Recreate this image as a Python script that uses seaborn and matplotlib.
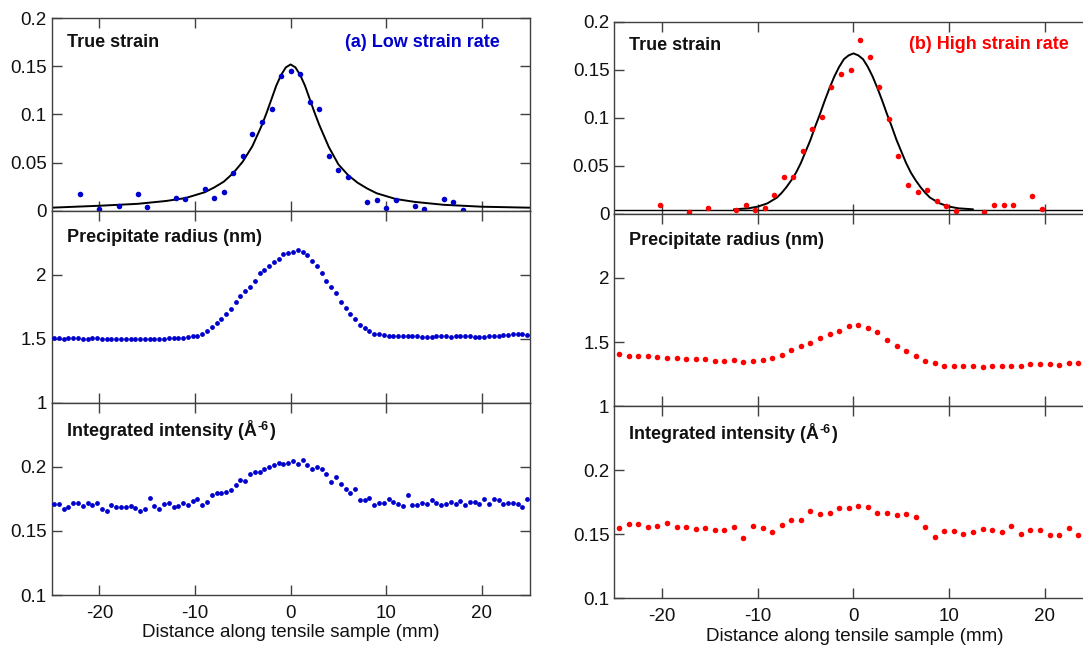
import matplotlib
matplotlib.use('Agg')
import matplotlib.pyplot as plt
import seaborn as sns

# ---- (a) low strain rate ----
strain_x_low = [-22, -20, -18, -16, -15, -12, -11, -9, -8, -7, -6, -5, -4, -3, -2, -1, 0,
                1, 2, 3, 4, 5, 6, 8, 9, 10, 11, 13, 14, 16, 17, 18]
strain_low = [0.0175, 0.0016, 0.005, 0.0168, 0.0037, 0.0134, 0.0123, 0.0224, 0.0127, 0.0196,
              0.039, 0.057, 0.080, 0.092, 0.106, 0.140, 0.145, 0.1416, 0.1126, 0.106,
              0.057, 0.042, 0.0348, 0.0092, 0.0113, 0.0023, 0.0113, 0.005, 0.0016, 0.012,
              0.0085, 0.001]
fit_x_low = [-25, -20, -16, -13, -11, -9, -8, -7, -6, -5, -4, -3, -2.5, -2, -1.5, -1, -0.5, 0,
             0.5, 1, 1.5, 2, 2.5, 3, 4, 5, 6, 7, 8, 9, 11, 13, 16, 20, 25]
fit_low = [0.003, 0.005, 0.007, 0.010, 0.013, 0.019, 0.024, 0.030, 0.039, 0.051,
           0.067, 0.089, 0.102, 0.116, 0.130, 0.141, 0.149, 0.152, 0.149, 0.141,
           0.130, 0.116, 0.102, 0.089, 0.066, 0.048, 0.037, 0.029, 0.023, 0.018,
           0.012, 0.009, 0.006, 0.004, 0.003]

pos_low = [-24.75, -24.25, -23.75, -23.25, -22.75, -22.25, -21.75, -21.25, -20.75, -20.25,
           -19.75, -19.25, -18.75, -18.25, -17.75, -17.25, -16.75, -16.25, -15.75, -15.25,
           -14.75, -14.25, -13.75, -13.25, -12.75, -12.25, -11.75, -11.25, -10.75, -10.25,
           -9.75, -9.25, -8.75, -8.25, -7.75, -7.25, -6.75, -6.25, -5.75, -5.25,
           -4.75, -4.25, -3.75, -3.25, -2.75, -2.25, -1.75, -1.25, -0.75, -0.25,
           0.25, 0.75, 1.25, 1.75, 2.25, 2.75, 3.25, 3.75, 4.25, 4.75,
           5.25, 5.75, 6.25, 6.75, 7.25, 7.75, 8.25, 8.75, 9.25, 9.75,
           10.25, 10.75, 11.25, 11.75, 12.25, 12.75, 13.25, 13.75, 14.25, 14.75,
           15.25, 15.75, 16.25, 16.75, 17.25, 17.75, 18.25, 18.75, 19.25, 19.75,
           20.25, 20.75, 21.25, 21.75, 22.25, 22.75, 23.25, 23.75, 24.25, 24.75]
radius_low = [1.505, 1.505, 1.500, 1.505, 1.505, 1.505, 1.500, 1.500, 1.505, 1.505,
              1.500, 1.500, 1.497, 1.497, 1.497, 1.497, 1.497, 1.500, 1.497, 1.500,
              1.497, 1.497, 1.500, 1.500, 1.503, 1.503, 1.505, 1.503, 1.510, 1.520,
              1.520, 1.540, 1.560, 1.590, 1.620, 1.650, 1.690, 1.730, 1.790, 1.830,
              1.870, 1.900, 1.950, 2.010, 2.040, 2.070, 2.100, 2.120, 2.160, 2.170,
              2.180, 2.190, 2.180, 2.150, 2.110, 2.070, 2.010, 1.950, 1.900, 1.860,
              1.790, 1.740, 1.690, 1.650, 1.610, 1.580, 1.560, 1.540, 1.540, 1.530,
              1.520, 1.520, 1.525, 1.520, 1.525, 1.520, 1.520, 1.515, 1.510, 1.510,
              1.525, 1.525, 1.525, 1.515, 1.520, 1.520, 1.520, 1.525, 1.510, 1.510,
              1.515, 1.525, 1.520, 1.525, 1.530, 1.530, 1.535, 1.535, 1.540, 1.530]
intensity_low = [0.171, 0.171, 0.167, 0.169, 0.172, 0.172, 0.1695, 0.172, 0.170, 0.172,
                 0.1675, 0.1656, 0.170, 0.169, 0.169, 0.169, 0.1695, 0.168, 0.1656, 0.167,
                 0.1758, 0.1695, 0.167, 0.171, 0.172, 0.169, 0.1695, 0.172, 0.1705, 0.1734,
                 0.1747, 0.1705, 0.1727, 0.1779, 0.1797, 0.1797, 0.1805, 0.182, 0.1857, 0.190,
                 0.189, 0.1948, 0.196, 0.196, 0.1987, 0.200, 0.2013, 0.203, 0.202, 0.2034,
                 0.2047, 0.202, 0.2052, 0.2013, 0.1987, 0.200, 0.198, 0.1948, 0.1883, 0.192,
                 0.1865, 0.183, 0.1797, 0.183, 0.174, 0.1745, 0.176, 0.170, 0.172, 0.172,
                 0.1747, 0.1727, 0.1714, 0.1695, 0.1779, 0.170, 0.170, 0.172, 0.1714, 0.1745,
                 0.172, 0.170, 0.1714, 0.1727, 0.1714, 0.173, 0.170, 0.1727, 0.1727, 0.1714,
                 0.1747, 0.1708, 0.1747, 0.1745, 0.1714, 0.172, 0.172, 0.1714, 0.169, 0.175]

# ---- (b) high strain rate ----
strain_x_high = [-20.2, -17.2, -15.2, -12.25, -11.2, -10.3, -9.3, -8.3, -7.3, -6.3,
                 -5.3, -4.3, -3.3, -2.3, -1.3, -0.3, 0.7, 1.7, 2.7, 3.7,
                 4.7, 5.7, 6.7, 7.7, 8.7, 9.7, 10.7, 13.7, 14.7, 15.7,
                 16.7, 18.7, 19.7]
strain_high = [0.0097, 0.0017, 0.0062, 0.0042, 0.0094, 0.0042, 0.0066, 0.0194, 0.038, 0.038,
               0.0655, 0.088, 0.101, 0.132, 0.146, 0.150, 0.181, 0.163, 0.132, 0.0988,
               0.060, 0.0305, 0.0229, 0.025, 0.013, 0.008, 0.0028, 0.0017, 0.0097, 0.009,
               0.009, 0.0184, 0.0052]
fit_x_high = [-12.5, -11, -10, -9, -8, -7.5, -7, -6.5, -6, -5.5,
              -5, -4.5, -4, -3.5, -3, -2.5, -2, -1.5, -1, -0.5, 0,
              0.5, 1, 1.5, 2, 2.5, 3, 3.5, 4, 4.5, 5,
              5.5, 6, 6.5, 7, 7.5, 8, 9, 10, 11, 12.5]
fit_high = [0.0048, 0.0058, 0.0076, 0.011, 0.017, 0.022, 0.028, 0.035, 0.043, 0.053,
            0.065, 0.077, 0.091, 0.104, 0.118, 0.131, 0.143, 0.153, 0.161, 0.165, 0.167,
            0.165, 0.161, 0.153, 0.143, 0.131, 0.118, 0.104, 0.091, 0.077, 0.065,
            0.053, 0.043, 0.035, 0.028, 0.022, 0.017, 0.011, 0.0076, 0.0058, 0.0048]
fit_base_high = 0.0045

pos_high = [-24.5, -23.5, -22.5, -21.5, -20.5, -19.5, -18.5, -17.5, -16.5, -15.5,
            -14.5, -13.5, -12.5, -11.5, -10.5, -9.5, -8.5, -7.5, -6.5, -5.5,
            -4.5, -3.5, -2.5, -1.5, -0.5, 0.5, 1.5, 2.5, 3.5, 4.5,
            5.5, 6.5, 7.5, 8.5, 9.5, 10.5, 11.5, 12.5, 13.5, 14.5,
            15.5, 16.5, 17.5, 18.5, 19.5, 20.5, 21.5, 22.5, 23.5]
radius_high = [1.404, 1.391, 1.388, 1.393, 1.380, 1.378, 1.375, 1.370, 1.370, 1.367,
               1.352, 1.352, 1.357, 1.346, 1.352, 1.357, 1.378, 1.398, 1.435, 1.469,
               1.495, 1.529, 1.565, 1.586, 1.625, 1.633, 1.612, 1.581, 1.516, 1.469,
               1.432, 1.391, 1.354, 1.333, 1.312, 1.315, 1.315, 1.315, 1.305, 1.312,
               1.315, 1.315, 1.315, 1.328, 1.328, 1.326, 1.323, 1.336, 1.336]
intensity_high = [0.1552, 0.1583, 0.1578, 0.1557, 0.1563, 0.1591, 0.1557, 0.156, 0.1542, 0.155,
                  0.1531, 0.1531, 0.1555, 0.1469, 0.1568, 0.1552, 0.1518, 0.1576, 0.1609, 0.1615,
                  0.1685, 0.1661, 0.1667, 0.1703, 0.1703, 0.1719, 0.1711, 0.1664, 0.1664, 0.1651,
                  0.1656, 0.1635, 0.1555, 0.1477, 0.1529, 0.1526, 0.1503, 0.1518, 0.1542, 0.1531,
                  0.1518, 0.1565, 0.150, 0.1536, 0.1536, 0.1497, 0.1497, 0.1552, 0.1492]

panel_names = ['True strain', 'Precipitate radius (nm)', 'Integrated intensity (Å']
ytick_sets = [([0, 0.05, 0.1, 0.15, 0.2], ['0', '0.05', '0.1', '0.15', '0.2']),
              ([1, 1.5, 2], ['1', '1.5', '2']),
              ([0.1, 0.15, 0.2], ['0.1', '0.15', '0.2'])]
ylims = [(0, 0.2), (1, 2.5), (0.1, 0.25)]
xticks = [-20, -10, 0, 10, 20]

BLUE = '#0000cc'
RED = '#ff0000'
INK = '#111111'

sns.set_style('ticks')
plt.rcParams['font.family'] = ['Liberation Sans', 'DejaVu Sans']
plt.rcParams['axes.unicode_minus'] = False

fig = plt.figure(figsize=(10.83, 6.5), dpi=100)
intensity_titles = []


def make_column(left, width, top, bottom, xlim, right_side, label_x, label_y):
    h = (top - bottom) / 3
    axes = []
    for i in range(3):
        ax = fig.add_axes([left, top - (i + 1) * h, width, h])
        ax.set_xlim(*xlim)
        ax.set_ylim(*ylims[i])
        ax.set_yticks(ytick_sets[i][0])
        ax.set_yticklabels(ytick_sets[i][1])
        ax.set_xticks(xticks)
        for sp in ax.spines.values():
            sp.set_color('#404040')
            sp.set_linewidth(1.0)
        if not right_side:
            ax.spines['right'].set_visible(False)
        ax.tick_params(axis='both', direction='in', length=7, width=1, color='#404040',
                       labelsize=13.5, labelcolor=INK, top=True, right=right_side)
        ax.tick_params(axis='y', pad=3.6)
        ax.tick_params(axis='x', pad=7)
        if i < 2:
            ax.tick_params(axis='x', labelbottom=False)
        t = ax.text(0.032, 0.875 if i == 0 else 0.861, panel_names[i], transform=ax.transAxes,
                    fontsize=13, fontweight='bold', va='center', ha='left', color=INK)
        if i == 2:
            intensity_titles.append(t)
        axes.append(ax)
    axes[2].set_xlabel('Distance along tensile sample (mm)', fontsize=13.5, color=INK)
    axes[2].xaxis.set_label_coords(label_x, label_y)
    return axes


left_axes = make_column(0.0477, 0.4413, 0.9718, 0.0846, (-25, 25), True, 0.5, -0.15)
right_axes = make_column(0.5673, 0.4327, 0.9666, 0.0795, (-25, 24), False, 0.513, -0.155)

# low strain rate column
ax = left_axes[0]
sns.lineplot(x=fit_x_low, y=fit_low, color='black', lw=1.4, ax=ax, estimator=None, sort=False)
sns.scatterplot(x=strain_x_low, y=strain_low, color=BLUE, s=16, linewidth=0, ax=ax, zorder=3)
ax.text(0.938, 0.875, '(a) Low strain rate', transform=ax.transAxes, fontsize=13,
        fontweight='bold', color=BLUE, ha='right', va='center')
sns.scatterplot(x=pos_low, y=radius_low, color=BLUE, s=12, linewidth=0, ax=left_axes[1], zorder=3)
sns.scatterplot(x=pos_low, y=intensity_low, color=BLUE, s=12, linewidth=0, ax=left_axes[2], zorder=3)

# high strain rate column
ax = right_axes[0]
ax.axhline(fit_base_high, color='black', lw=1.0)
sns.lineplot(x=fit_x_high, y=fit_high, color='black', lw=1.4, ax=ax, estimator=None, sort=False)
sns.scatterplot(x=strain_x_high, y=strain_high, color=RED, s=16, linewidth=0, ax=ax, zorder=3)
ax.text(0.9695, 0.879, '(b) High strain rate', transform=ax.transAxes, fontsize=13,
        fontweight='bold', color=RED, ha='right', va='center')
sns.scatterplot(x=pos_high, y=radius_high, color=RED, s=16, linewidth=0, ax=right_axes[1], zorder=3)
sns.scatterplot(x=pos_high, y=intensity_high, color=RED, s=16, linewidth=0, ax=right_axes[2], zorder=3)

# superscript "-6" and closing bracket after the intensity titles
fig.canvas.draw()
for t in intensity_titles:
    bb = t.get_window_extent()
    sup = fig.text(bb.x1 + 0.5, bb.y1 - 1, '-6', transform=None, fontsize=9,
                   fontweight='bold', color=INK, ha='left', va='top')
    sb = sup.get_window_extent()
    fig.text(sb.x1 + 0.5, bb.y0, ')', transform=None, fontsize=13,
             fontweight='bold', color=INK, ha='left', va='bottom')

fig.savefig('out.png', dpi=100)
